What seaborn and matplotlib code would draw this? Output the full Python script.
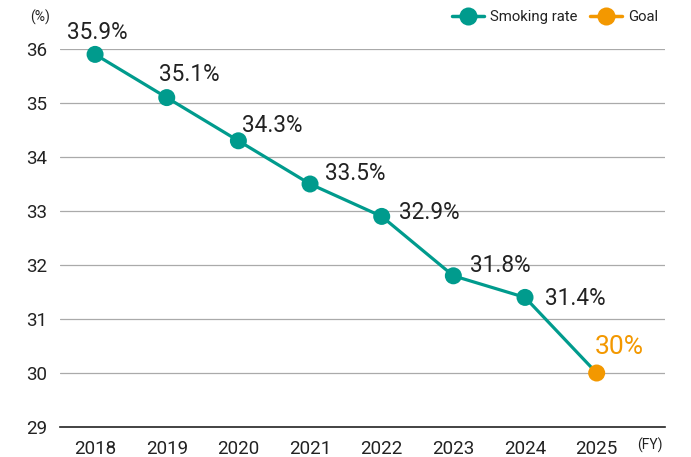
import seaborn as sns
import matplotlib.pyplot as plt
import pandas as pd
import numpy as np
from matplotlib.lines import Line2D

years = ['2018', '2019', '2020', '2021', '2022', '2023', '2024', '2025']
rates = [35.9, 35.1, 34.3, 33.5, 32.9, 31.8, 31.4, 30.0]
labels = ['35.9%', '35.1%', '34.3%', '33.5%', '32.9%', '31.8%', '31.4%', '30%']
yticks = [29, 30, 31, 32, 33, 34, 35, 36]

# label offsets in pixels (dx, dy) from the point
OFFSETS = [(2, 22), (23, 23), (34, 15), (45, 11), (48, 4), (47, 10), (50, -1), (23, 26)]

TEAL = '#009b8d'
ORANGE = '#f39800'

sns.set_theme(style='white')
plt.rcParams['font.family'] = ['Roboto', 'DejaVu Sans']

df = pd.DataFrame({'pos': np.arange(len(years)), 'rate': rates, 'year': years})

fig = plt.figure(figsize=(6.91, 4.57), dpi=100)
ax = fig.add_axes([0.0868, 0.0656, 0.8752, 0.8272])

sns.lineplot(data=df, x='pos', y='rate', color=TEAL, lw=2.3, ax=ax, zorder=3)
colors = [TEAL] * (len(years) - 1) + [ORANGE]
ax.scatter(df['pos'], df['rate'], s=150, c=colors, zorder=4, clip_on=False, linewidths=0)

for i, (lab, r) in enumerate(zip(labels, rates)):
    dx, dy = OFFSETS[i]
    last = i == len(years) - 1
    ax.annotate(lab, (i, r), xytext=(dx, dy), textcoords='offset pixels',
                ha='center', va='center', fontsize=19 if last else 16.3,
                color=ORANGE if last else '#222222')

ax.set_xlim(-0.49, 7.95)
ax.set_ylim(29, 36)
ax.set_xticks(range(len(years)))
ax.set_xticklabels(years)
ax.set_yticks(yticks)
ax.tick_params(axis='both', labelsize=13.5, length=0, colors='#222222', pad=9)
ax.set_xlabel('')
ax.set_ylabel('')
for y in yticks[1:]:
    ax.axhline(y, color='#aaaaaa', lw=0.9, zorder=1)

sns.despine(ax=ax, left=True)
ax.spines['bottom'].set_color('#222222')
ax.spines['bottom'].set_linewidth(1.2)

fig.text(0.058, 0.962, '(%)', fontsize=10, ha='center', va='center', color='#222222')
fig.text(0.941, 0.025, '(FY)', fontsize=10, ha='center', va='center', color='#222222')

handles = [Line2D([0], [0], color=TEAL, lw=2.5, marker='o', markersize=13, markeredgewidth=0),
           Line2D([0], [0], color=ORANGE, lw=2.5, marker='o', markersize=13, markeredgewidth=0)]
fig.legend(handles, ['Smoking rate', 'Goal'], loc='center right', bbox_to_anchor=(0.972, 0.963),
           ncol=2, frameon=False, fontsize=10.7, handlelength=2.2, columnspacing=0.8,
           handletextpad=0.4, labelcolor='#222222')

fig.savefig('out.png', dpi=100)
